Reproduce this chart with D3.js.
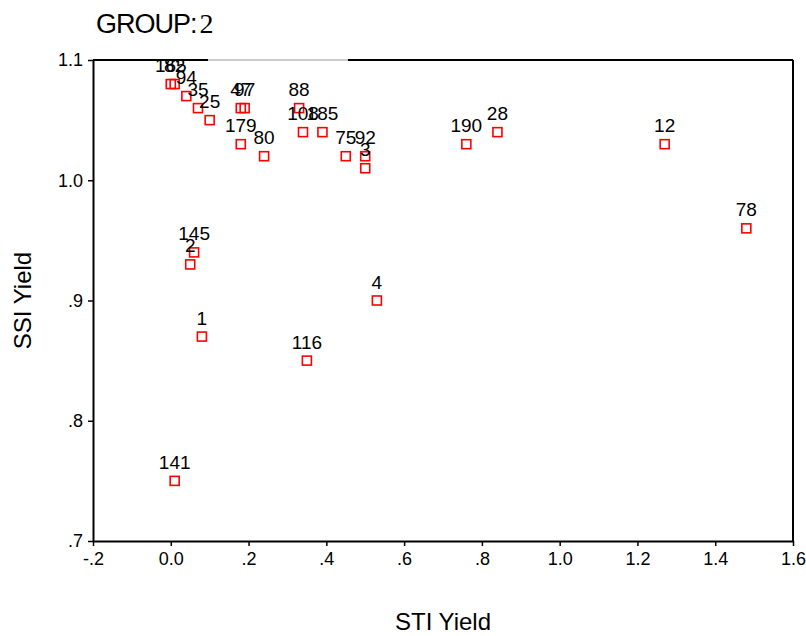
<!DOCTYPE html>
<html>
<head>
<meta charset="utf-8">
<script src="https://cdn.jsdelivr.net/npm/d3@7"></script>
<style>
body { margin: 0; background: #fff; }
text { font-family: "Liberation Sans", Arial, sans-serif; }
</style>
</head>
<body>
<svg id="chart" width="806" height="636"></svg>
<script>
const caseLabels = ["165","82","94","35","25","47","97","179","80","88","108","185","75","92","3","190","28","12","78","145","2","1","4","116","141"];
const stiYield   = [0.00,0.01,0.04,0.07,0.10,0.18,0.19,0.18,0.24,0.33,0.34,0.39,0.45,0.50,0.50,0.76,0.84,1.27,1.48,0.06,0.05,0.08,0.53,0.35,0.01];
const ssiYield   = [1.08,1.08,1.07,1.06,1.05,1.06,1.06,1.03,1.02,1.06,1.04,1.04,1.02,1.02,1.01,1.03,1.04,1.03,0.96,0.94,0.93,0.87,0.90,0.85,0.75];
const xTicks = [-0.2,0,0.2,0.4,0.6,0.8,1.0,1.2,1.4,1.6];
const yTicks = [0.7,0.8,0.9,1.0,1.1];
const xTickLabels = ["-.2","0.0",".2",".4",".6",".8","1.0","1.2","1.4","1.6"];
const yTickLabels = [".7",".8",".9","1.0","1.1"];

(function () {
const svg = d3.select("#chart");
const pL = 93, pR = 793, pT = 60, pB = 541;
const x = d3.scaleLinear().domain([-0.2, 1.6]).range([pL, pR]);
const y = d3.scaleLinear().domain([0.7, 1.1]).range([pB, pT]);

// title
const title = svg.append("text").attr("x", 96).attr("y", 33)
  .style("font-size", "27px").attr("fill", "#000");
title.append("tspan").text("GROUP:").style("letter-spacing", "-1px");
title.append("tspan").text("2").attr("dx", 3).style("font-family", "'Liberation Serif', serif").style("font-size", "28px");

// axes
const xAxis = d3.axisBottom(x).tickValues(xTicks).tickSize(5).tickSizeOuter(0)
  .tickFormat((d, i) => xTickLabels[i]);
const gx = svg.append("g").attr("transform", `translate(0,${pB})`).call(xAxis);
gx.select(".domain").attr("stroke", "#000").attr("stroke-width", 2);
gx.selectAll(".tick line").attr("stroke", "#000").attr("stroke-width", 1.5);
gx.selectAll(".tick text").style("font-size", "18px").style("font-family", "'Liberation Sans', Arial, sans-serif").attr("y", 11).attr("fill", "#000");

const yAxis = d3.axisLeft(y).tickValues(yTicks).tickSize(5).tickSizeOuter(0)
  .tickFormat((d, i) => yTickLabels[i]);
const gy = svg.append("g").attr("transform", `translate(${pL},0)`).call(yAxis);
gy.select(".domain").attr("stroke", "#000").attr("stroke-width", 2);
gy.selectAll(".tick line").attr("stroke", "#000").attr("stroke-width", 1.5);
gy.selectAll(".tick text").style("font-size", "18px").style("font-family", "'Liberation Sans', Arial, sans-serif").attr("x", -10).attr("fill", "#000");

// frame (right and top)
svg.append("line").attr("x1", pR).attr("x2", pR).attr("y1", pT).attr("y2", pB)
  .attr("stroke", "#000").attr("stroke-width", 2);
svg.append("line").attr("x1", pL).attr("x2", 208).attr("y1", pT).attr("y2", pT)
  .attr("stroke", "#000").attr("stroke-width", 2);
svg.append("line").attr("x1", 208).attr("x2", 348).attr("y1", pT).attr("y2", pT)
  .attr("stroke", "#999").attr("stroke-width", 1);
svg.append("line").attr("x1", 348).attr("x2", pR).attr("y1", pT).attr("y2", pT)
  .attr("stroke", "#000").attr("stroke-width", 2);

// axis titles
svg.append("text").attr("x", 443).attr("y", 630).attr("text-anchor", "middle")
  .style("font-size", "24px").text("STI Yield");
svg.append("text").attr("transform", `translate(31,${(pT + pB) / 2}) rotate(-90)`)
  .attr("text-anchor", "middle").style("font-size", "24px").text("SSI Yield");

// points
const data = caseLabels.map((c, i) => ({ c, sx: stiYield[i], sy: ssiYield[i] }));
const g = svg.append("g");
g.selectAll("rect").data(data).join("rect")
  .attr("x", d => x(d.sx) - 4.5).attr("y", d => y(d.sy) - 4.5)
  .attr("width", 9).attr("height", 9)
  .attr("fill", "none").attr("stroke", "#ff0000").attr("stroke-width", 1.6);
g.selectAll("text").data(data).join("text")
  .attr("x", d => x(d.sx)).attr("y", d => y(d.sy) - 12)
  .attr("text-anchor", "middle").style("font-size", "19px").attr("fill", "#000")
  .text(d => d.c);
})();
</script>
</body>
</html>
